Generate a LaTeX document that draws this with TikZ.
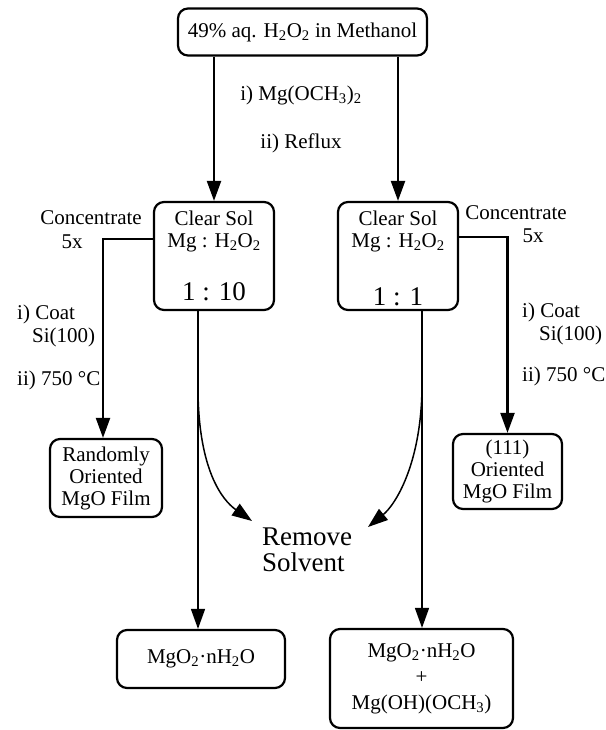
\documentclass[tikz,border=0pt]{standalone}
\usepackage{fontspec}
\setmainfont{Liberation Serif}
\usetikzlibrary{arrows.meta,calc}
\newcommand{\fsz}{\fontsize{21}{22}\selectfont}
\newcommand{\fbig}{\fontsize{27}{26}\selectfont}
\begin{document}
\begin{tikzpicture}[x=1pt,y=-1pt,
  box/.style={draw, line width=2.2pt, rounded corners=10pt, align=center, inner sep=0pt, font=\fsz},
  lab/.style={inner sep=0pt, font=\fsz},
  arr/.style={line width=2.2pt, -{Triangle[length=20pt,width=14pt]}},
  thinarr/.style={line width=1.5pt, -{Triangle[length=20pt,width=14pt]}}]
\useasboundingbox (0,0) rectangle (605,730);

% boxes
\node[box, minimum width=249pt, minimum height=47pt] (top) at (302.5,32) {49\% aq. H\textsubscript{2}O\textsubscript{2} in Methanol};
\node[box, minimum width=120pt, minimum height=108pt] (L) at (214,256) {};
\node[lab, align=center] (Lt) at (214,231) {Clear Sol\\Mg : H\textsubscript{2}O\textsubscript{2}};
\node[lab, font=\fbig] (Lr) at (214,292) {1 : 10};
\node[box, minimum width=120pt, minimum height=108pt] (R) at (398,256) {};
\node[lab, align=center] (Rt) at (398,231) {Clear Sol\\Mg : H\textsubscript{2}O\textsubscript{2}};
\node[lab, font=\fbig] (Rr) at (398,297) {1 : 1};

\node[box, minimum width=112pt, minimum height=78pt] (Rand) at (106,478) {Randomly\\Oriented\\MgO Film};
\node[box, minimum width=109pt, minimum height=75pt] (Ori) at (507.5,471.5) {(111)\\Oriented\\MgO Film};

\node[box, minimum width=168pt, minimum height=58pt] (P1) at (201,659) {MgO\textsubscript{2}·nH\textsubscript{2}O};
\node[box, minimum width=183pt, minimum height=99pt, font=\fontsize{21}{26}\selectfont] (P2) at (421.5,678.5) {MgO\textsubscript{2}·nH\textsubscript{2}O\\+\\Mg(OH)(OCH\textsubscript{3})};

\node[lab, font=\fontsize{27}{26}\selectfont, align=left, anchor=west] (rem) at (262,550) {Remove\\Solvent};

% labels
\node[lab] (s1) at (301,95) {i) Mg(OCH\textsubscript{3})\textsubscript{2}};
\node[lab] (s2) at (301,143) {ii) Reflux};

\node[lab] (lc1) at (91,218) {Concentrate};
\node[lab] (lc2) at (72,242) {5x};
\node[lab, anchor=west] (lc3) at (17,314) {i) Coat};
\node[lab, anchor=west] (lc4) at (32,337) {Si(100)};
\node[lab, anchor=west] (lc5) at (17,380) {ii) 750 °C};

\node[lab] (rc1) at (516,213) {Concentrate};
\node[lab] (rc2) at (533,236) {5x};
\node[lab, anchor=west] (rc3) at (522,312) {i) Coat};
\node[lab, anchor=west] (rc4) at (539,335) {Si(100)};
\node[lab, anchor=west] (rc5) at (522,376) {ii) 750 °C};

% connectors
\draw[arr] (L.north |- top.south) -- (L.north);
\draw[arr] (R.north |- top.south) -- (R.north);
\draw[arr] ([yshift=17pt]L.west) -| ([xshift=-3pt]Rand.north);
\draw[arr] ([yshift=19pt]R.east) -| (Ori.north);
\draw[thinarr] ([xshift=-16pt]L.south) -- ([xshift=-16pt]L.south |- P1.north);
\draw[thinarr] ([xshift=24pt]R.south) -- ([xshift=24pt]R.south |- P2.north);

\coordinate (cl) at (198,392);
\coordinate (tl) at (252,521);
\coordinate (cr) at (422,388);
\coordinate (tr) at (368,527);
\draw[thinarr] (cl) .. controls (199,470) and (222,500) .. (tl);
\draw[thinarr] (cr) .. controls (421,465) and (395,505) .. (tr);
\end{tikzpicture}
\end{document}
